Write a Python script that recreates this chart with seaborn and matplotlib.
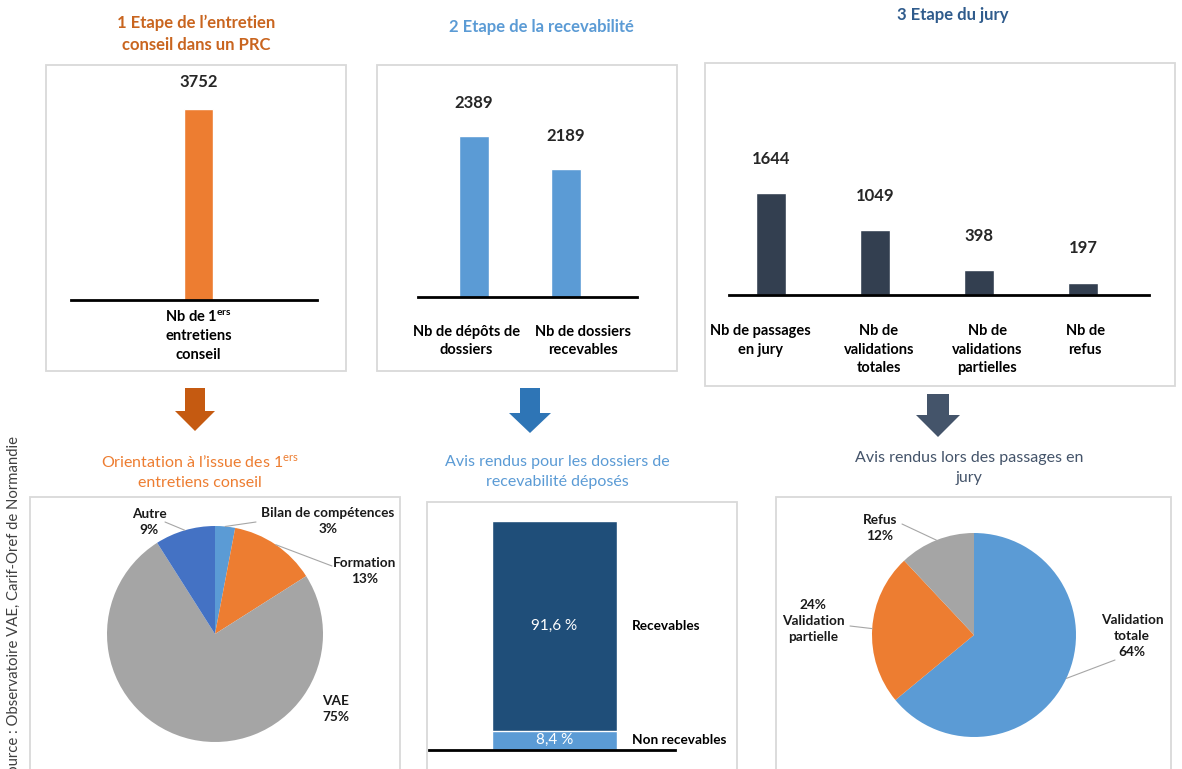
import numpy as np
import seaborn as sns
import matplotlib
matplotlib.use("Agg")
import matplotlib.pyplot as plt
from matplotlib.patches import Rectangle, Polygon
from matplotlib.lines import Line2D
from matplotlib.transforms import ScaledTranslation

# ---- data ----
entretiens_labels = ["Nb de 1$^{\\mathregular{ers}}$\nentretiens\nconseil"]
entretiens_values = [3752]

recev_labels = ["Nb de dépôts de\ndossiers", "Nb de dossiers\nrecevables"]
recev_values = [2389, 2189]

jury_labels = ["Nb de passages\nen jury", "Nb de\nvalidations\ntotales",
               "Nb de\nvalidations\npartielles", "Nb de\nrefus"]
jury_values = [1644, 1049, 398, 197]

orient_labels = ["Bilan de compétences", "Formation", "VAE", "Autre"]
orient_pct = [3, 13, 75, 9]

avis_recev_labels = ["Non recevables", "Recevables"]
avis_recev_pct = [8.4, 91.6]

avis_jury_labels = ["Validation totale", "Validation partielle", "Refus"]
avis_jury_pct = [64, 24, 12]

ORANGE = "#ED7D31"
BLUE = "#5B9BD5"
DARK = "#333F50"
NAVY = "#1F4E79"
GREY = "#A5A5A5"
ROYAL = "#4472C4"

sns.set_theme(style="white")
plt.rcParams["font.family"] = ["Lato", "DejaVu Sans"]
plt.rcParams["mathtext.fontset"] = "custom"
plt.rcParams["mathtext.rm"] = "Lato"
plt.rcParams["mathtext.bf"] = "Lato:bold"
plt.rcParams["mathtext.it"] = "Lato:italic"

W, H = 1182, 769
fig = plt.figure(figsize=(W / 100, H / 100), dpi=100)
fig.patch.set_facecolor("white")


def fx(x):
    return x / W


def fy(y):
    return 1 - y / H


def pbox(x0, y0, x1, y1):
    return [x0 / W, 1 - y1 / H, (x1 - x0) / W, (y1 - y0) / H]


def frame(x0, y0, x1, y1):
    fig.patches.append(Rectangle((fx(x0), fy(y1)), (x1 - x0) / W, (y1 - y0) / H,
                                 transform=fig.transFigure, fill=False,
                                 edgecolor="#D9D9D9", linewidth=1.3))


def arrow(cx, ytop, yhead, ytip, shaft, head, color):
    pts = [(cx - shaft, ytop), (cx + shaft, ytop), (cx + shaft, yhead), (cx + head, yhead),
           (cx, ytip), (cx - head, yhead), (cx - shaft, yhead)]
    fig.patches.append(Polygon([(fx(x), fy(y)) for x, y in pts], closed=True,
                               transform=fig.transFigure, facecolor=color, edgecolor="none"))


def style_bar_ax(ax, pad, shifts=None):
    ax.set_facecolor("none")
    for s in ["top", "left", "right"]:
        ax.spines[s].set_visible(False)
    ax.spines["bottom"].set_color("black")
    ax.spines["bottom"].set_linewidth(2)
    ax.set_yticks([])
    ax.set_xlabel("")
    ax.set_ylabel("")
    ax.tick_params(axis="x", length=0, pad=pad)
    labels = ax.get_xticklabels()
    for i, t in enumerate(labels):
        t.set_fontweight("bold")
        t.set_fontsize(10.5)
        t.set_linespacing(1.4)
        t.set_color("black")
        if shifts is not None:
            # nudge labels sideways like the original layout
            t.set_transform(t.get_transform() + ScaledTranslation(shifts[i] / 100, 0, fig.dpi_scale_trans))


# frames
frame(46, 65, 346, 371)
frame(377, 65, 677, 371)
frame(705, 63, 1175, 386)
frame(30, 497, 400, 790)
frame(427, 502, 737, 790)
frame(776, 497, 1171, 790)

# titles
fig.text(fx(196), fy(34), "1 Etape de l’entretien\nconseil dans un PRC", ha="center", va="center",
         fontsize=12, fontweight="bold", color="#C9651F", linespacing=1.5)
fig.text(fx(541), fy(27), "2 Etape de la recevabilité", ha="center", va="center",
         fontsize=12, fontweight="bold", color=BLUE)
fig.text(fx(953), fy(15), "3 Etape du jury", ha="center", va="center",
         fontsize=12, fontweight="bold", color="#2F5B8C")

# ---- step 1 ----
ax1 = fig.add_axes(pbox(71, 109, 317, 300))
sns.barplot(x=entretiens_labels, y=entretiens_values, color=ORANGE, saturation=1,
            width=0.118, errorbar=None, ax=ax1)
ax1.set_xlim(-0.518, 0.482)
ax1.set_ylim(0, max(entretiens_values))
ax1.bar_label(ax1.containers[0], padding=14, fontsize=12, fontweight="bold")
style_bar_ax(ax1, 7)

# ---- step 2 ----
ax2 = fig.add_axes(pbox(418, 136, 637, 297))
sns.barplot(x=recev_labels, y=recev_values, color=BLUE, saturation=1,
            width=0.33, errorbar=None, ax=ax2)
ax2.set_xlim(-0.61, 1.77)
ax2.set_ylim(1400, max(recev_values))
ax2.bar_label(ax2.containers[0], padding=18, fontsize=12, fontweight="bold")
style_bar_ax(ax2, 20, shifts=[-8, 17])

# ---- step 3 ----
ax3 = fig.add_axes(pbox(729, 193, 1149, 295))
sns.barplot(x=jury_labels, y=jury_values, color=DARK, saturation=1,
            width=0.29, errorbar=None, ax=ax3)
ax3.set_xlim(-0.40, 3.63)
ax3.set_ylim(0, max(jury_values))
ax3.bar_label(ax3.containers[0], padding=19, fontsize=12, fontweight="bold")
style_bar_ax(ax3, 21, shifts=[-10, 4, 8, 2])

# arrows
arrow(195, 388, 411, 431, 10, 20, "#C55A11")
arrow(530, 388, 413, 433, 10, 21, "#2E75B6")
arrow(938, 394, 415, 437, 11, 22, "#44546A")

# subtitles
fig.text(fx(200), fy(472), "Orientation à l’issue des 1$^{\\mathregular{ers}}$\nentretiens conseil",
         ha="center", va="center", fontsize=11.5, color=ORANGE, linespacing=1.5)
fig.text(fx(557), fy(472), "Avis rendus pour les dossiers de\nrecevabilité déposés",
         ha="center", va="center", fontsize=11.5, color=BLUE, linespacing=1.5)
fig.text(fx(969), fy(468), "Avis rendus lors des passages en\njury",
         ha="center", va="center", fontsize=11.5, color="#44546A", linespacing=1.5)


def pie_panel(cx, cy, r, values, colors, texts, label_px, leader_px):
    half = 1.25 * r
    ax = fig.add_axes(pbox(cx - half, cy - half, cx + half, cy + half))
    wedges, _ = ax.pie(values, colors=colors, startangle=90, counterclock=False,
                       wedgeprops=dict(linewidth=0))
    ax.set_xlim(-1.25, 1.25)
    ax.set_ylim(-1.25, 1.25)
    ax.set_facecolor("none")
    for w, txt, lp, ld in zip(wedges, texts, label_px, leader_px):
        if ld is not None:
            ang = np.deg2rad((w.theta1 + w.theta2) / 2)
            ex, ey = (ld[0] - cx) / r, -(ld[1] - cy) / r
            ax.add_line(Line2D([np.cos(ang), ex], [np.sin(ang), ey], color="#A6A6A6",
                               linewidth=0.8, clip_on=False))
        ax.text((lp[0] - cx) / r, -(lp[1] - cy) / r, txt, ha="center", va="center",
                fontsize=9.8, fontweight="bold", color="#1A1A1A", linespacing=1.4)
    return ax


# ---- orientation pie ----
orient_texts = [f"{l}\n{v}%" for l, v in zip(orient_labels, orient_pct)]
pie_panel(215, 634, 108, orient_pct, [BLUE, ORANGE, GREY, ROYAL], orient_texts,
          [(328, 521), (365, 571), (336, 709), (149, 522)],
          [(256, 522), (332, 566), None, (165, 522)])

# ---- recevabilite stacked bar ----
axm = fig.add_axes(pbox(429, 521, 675, 750))
total = sum(avis_recev_pct)
sns.barplot(x=["x"], y=[total], color=NAVY, saturation=1, width=0.5, errorbar=None, ax=axm)
sns.barplot(x=["x"], y=[avis_recev_pct[0]], color=BLUE, saturation=1, width=0.5,
            errorbar=None, ax=axm)
axm.set_xlim(-0.5, 0.48)
axm.set_ylim(0, total)
style_bar_ax(axm, 0)
axm.set_xticks([])
bottoms = np.concatenate([[0], np.cumsum(avis_recev_pct)[:-1]])
for lab, v, b in zip(avis_recev_labels, avis_recev_pct, bottoms):
    mid = b + v / 2
    axm.text(0, mid, f"{v:.1f} %".replace(".", ","), ha="center", va="center",
             fontsize=11, color="white")
    axm.text(0.31, mid, lab, ha="left", va="center", fontsize=9.8, fontweight="bold",
             color="black")

# ---- jury pie ----
jury_texts = ["Validation\ntotale\n64%", "24%\nValidation\npartielle", "Refus\n12%"]
pie_panel(974, 635, 102, avis_jury_pct, [BLUE, ORANGE, GREY], jury_texts,
          [(1132, 636), (813, 621), (880, 528)],
          [(1115, 660), (850, 626), (902, 524)])

# source (runs off the bottom edge, as in the original)
fig.text(fx(14), fy(436), "Source : Observatoire VAE, Carif-Oref de Normandie", rotation=90,
         rotation_mode="anchor", ha="right", va="center", fontsize=10.7, color="#404040")

fig.savefig("out.png", dpi=100)
